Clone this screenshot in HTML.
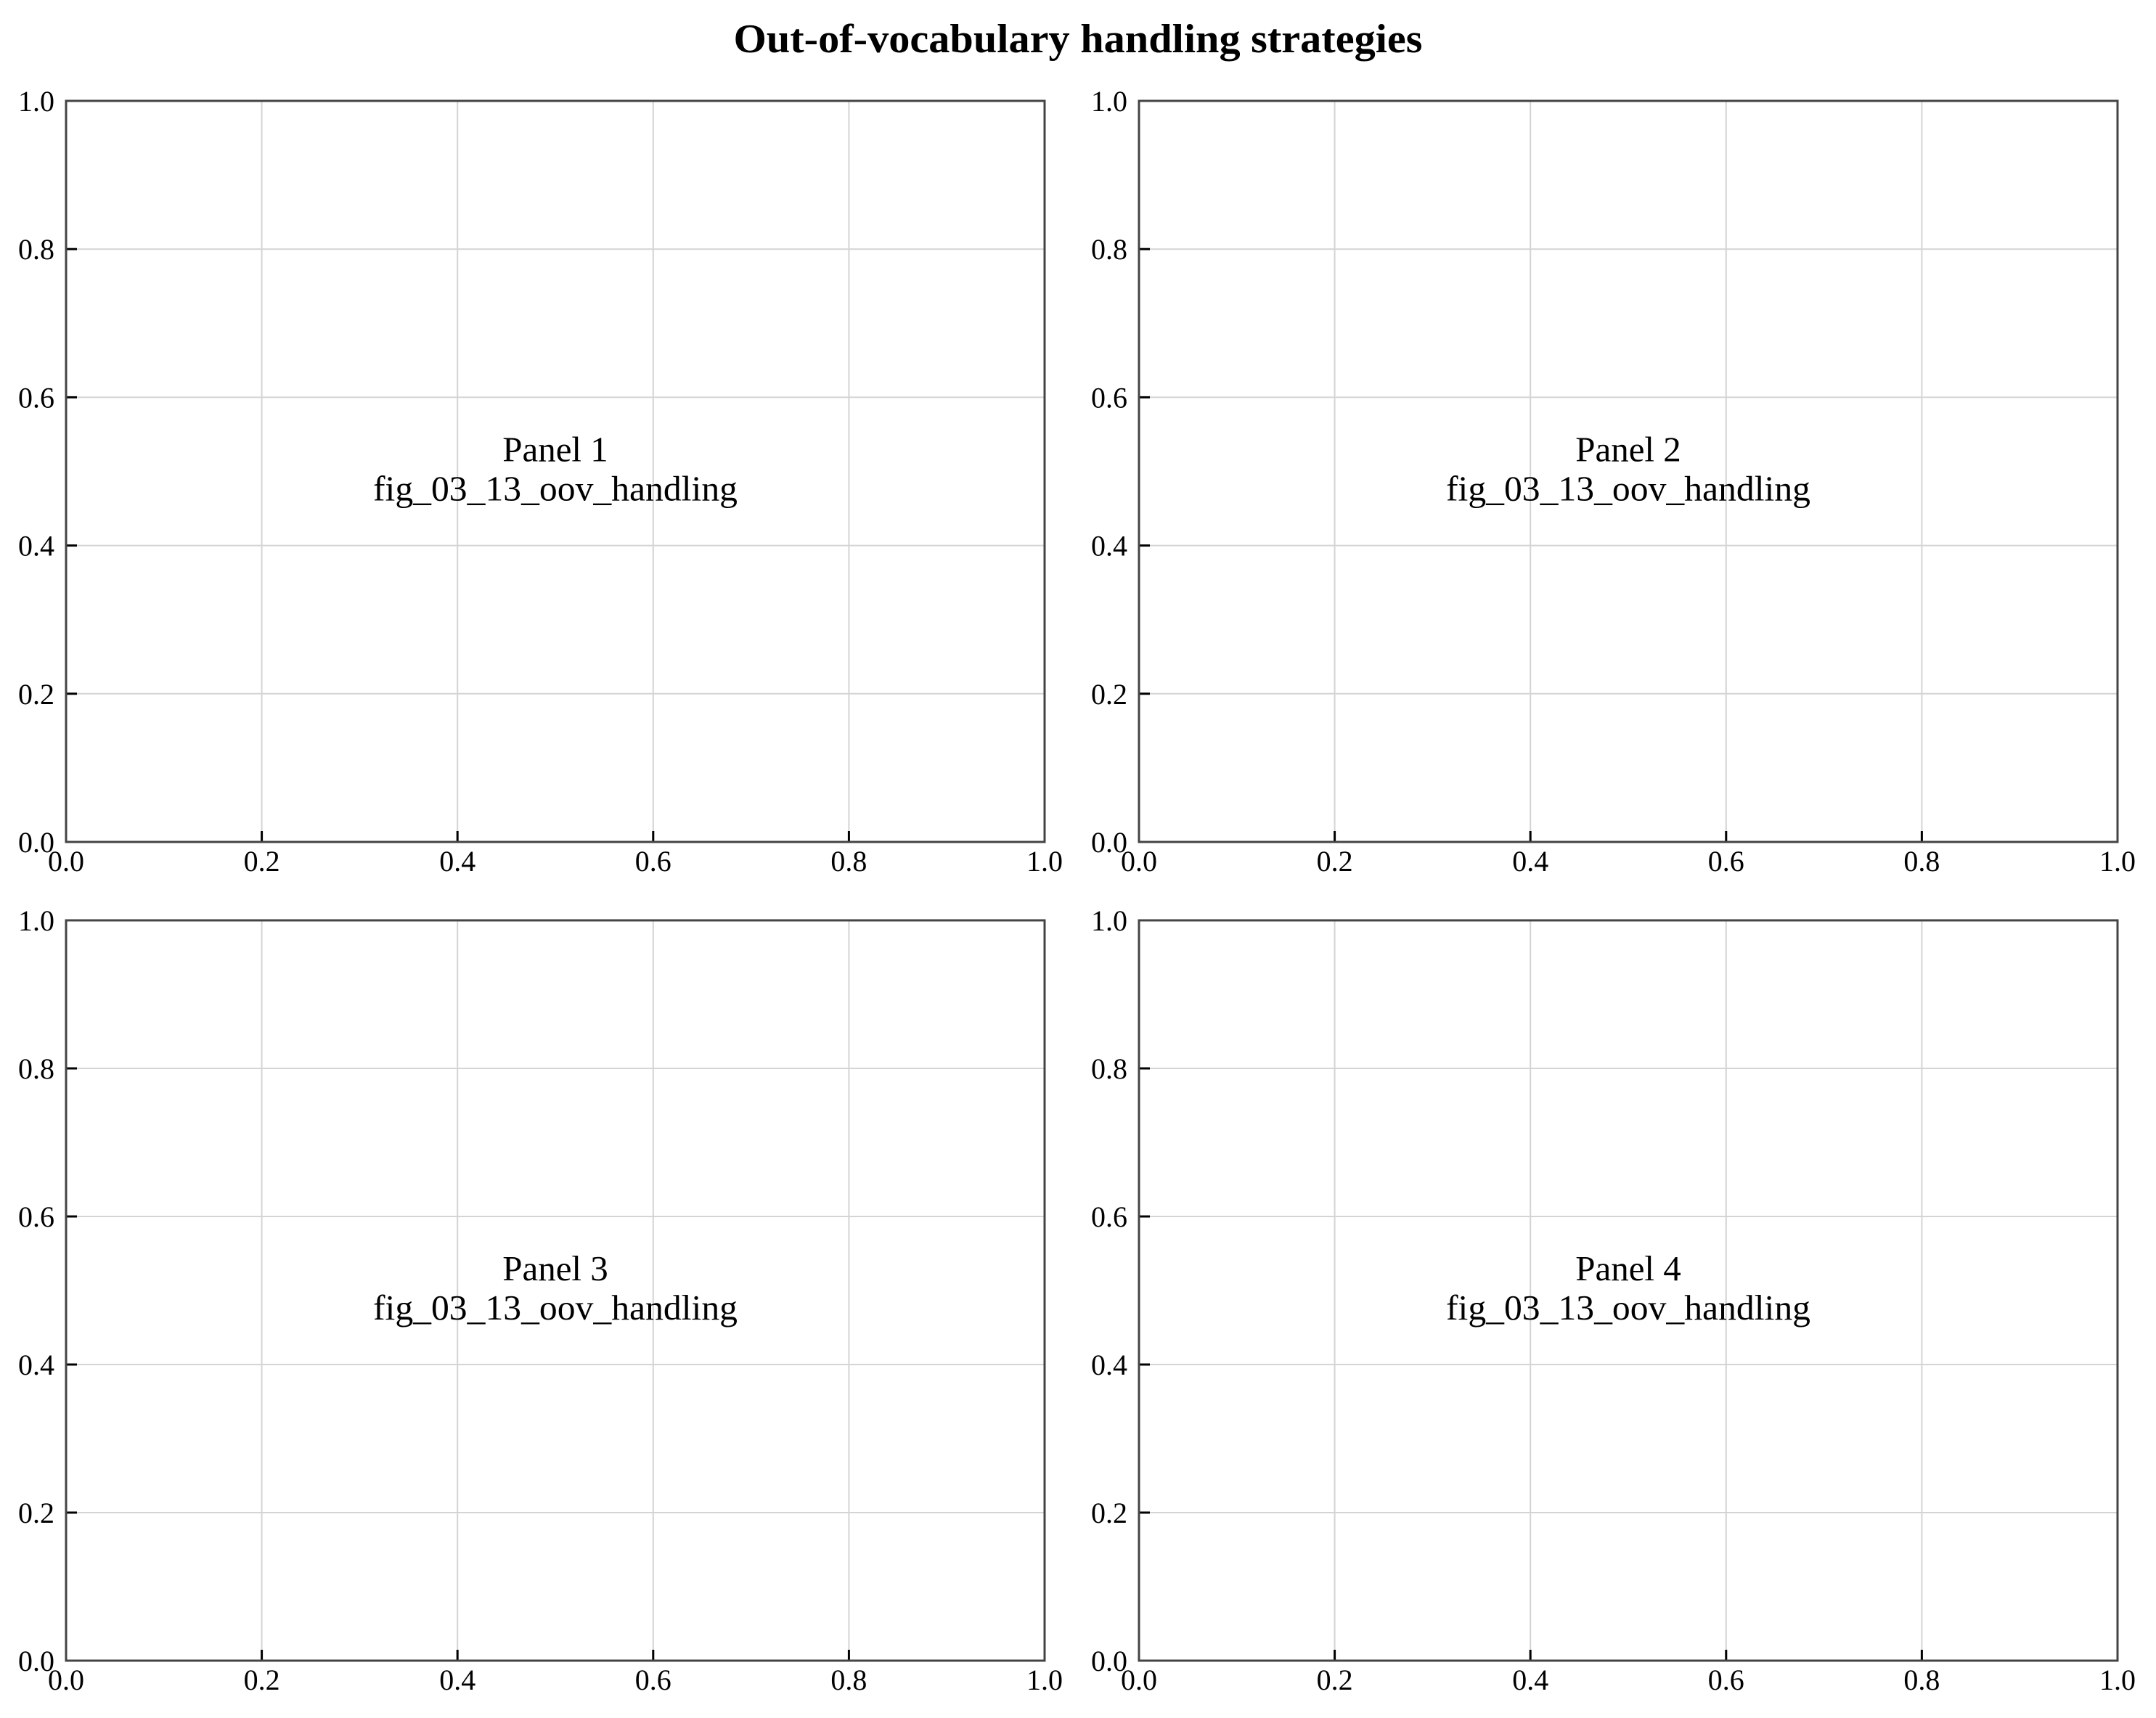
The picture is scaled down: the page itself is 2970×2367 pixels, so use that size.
<!DOCTYPE html>
<html><head><meta charset="utf-8"><style>
html,body{margin:0;padding:0;background:#fff;}
svg{display:block;}
text{font-family:"Liberation Serif",serif;fill:#000;}
</style></head><body>
<svg width="2970" height="2367" viewBox="0 0 2970 2367" xmlns="http://www.w3.org/2000/svg">
<text x="1485" y="72" text-anchor="middle" font-size="56" font-weight="bold" textLength="949" lengthAdjust="spacingAndGlyphs">Out-of-vocabulary handling strategies</text>
</svg>
<script>
(function(){
var svg=document.querySelector('svg');var NS='http://www.w3.org/2000/svg';
function el(n,a,t){var e=document.createElementNS(NS,n);for(var k in a)e.setAttribute(k,a[k]);if(t!=null)e.textContent=t;svg.appendChild(e);return e;}
var P=[[91,1439,139,1160,1],[1569,2917,139,1160,2],[91,1439,1268,2288,3],[1569,2917,1268,2288,4]];
P.forEach(function(p){
 var L=p[0],R=p[1],T=p[2],B=p[3],W=R-L,H=B-T;
 for(var i=1;i<5;i++){var x=L+W*i/5,y=B-H*i/5;
  el('line',{x1:x,y1:T,x2:x,y2:B,stroke:'#d4d4d4','stroke-width':2});
  el('line',{x1:L,y1:y,x2:R,y2:y,stroke:'#d4d4d4','stroke-width':2});}
 for(var i=0;i<=5;i++){var x=L+W*i/5,y=B-H*i/5,lab=(i/5).toFixed(1);
  el('line',{x1:x,y1:B,x2:x,y2:B-15,stroke:'#000','stroke-width':3});
  el('line',{x1:L,y1:y,x2:L+15,y2:y,stroke:'#000','stroke-width':3});
  el('text',{x:x,y:B+40,'text-anchor':'middle','font-size':40},lab);
  el('text',{x:L-16,y:y+14,'text-anchor':'end','font-size':40},lab);}
 el('rect',{x:L,y:T,width:W,height:H,fill:'none',stroke:'#444','stroke-width':3});
 var cx=(L+R)/2,cy=(T+B)/2;
 el('text',{x:cx,y:cy-14,'text-anchor':'middle','font-size':49},'Panel '+p[4]);
 el('text',{x:cx,y:cy+40,'text-anchor':'middle','font-size':49,textLength:502,lengthAdjust:'spacingAndGlyphs'},'fig_03_13_oov_handling');
});
})();
</script>
</body></html>
